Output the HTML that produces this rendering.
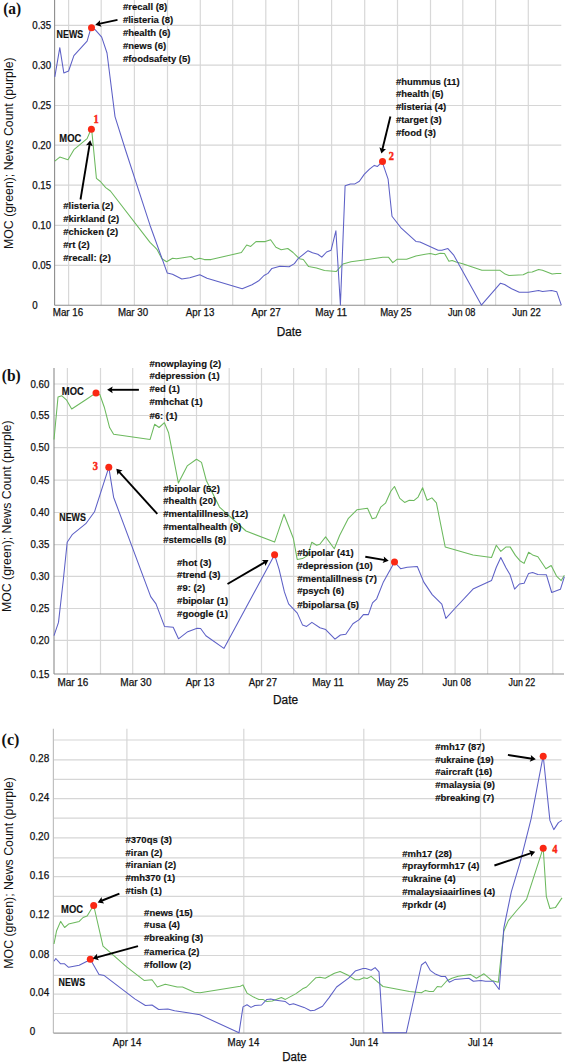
<!DOCTYPE html>
<html><head><meta charset="utf-8"><style>
html,body{margin:0;padding:0;background:#fff;}
body{width:566px;height:1063px;overflow:hidden;}
svg{display:block;}
</style></head><body>
<svg width="566" height="1063" viewBox="0 0 566 1063" shape-rendering="auto">
<rect width="566" height="1063" fill="#fff"/>
<line x1="68.60" y1="0" x2="68.60" y2="305.1" stroke="#d8d8d8" stroke-width="1.2"/>
<line x1="101.20" y1="0" x2="101.20" y2="305.1" stroke="#d8d8d8" stroke-width="1.2"/>
<line x1="134.40" y1="0" x2="134.40" y2="305.1" stroke="#d8d8d8" stroke-width="1.2"/>
<line x1="167.50" y1="0" x2="167.50" y2="305.1" stroke="#d8d8d8" stroke-width="1.2"/>
<line x1="200.30" y1="0" x2="200.30" y2="305.1" stroke="#d8d8d8" stroke-width="1.2"/>
<line x1="232.70" y1="0" x2="232.70" y2="305.1" stroke="#d8d8d8" stroke-width="1.2"/>
<line x1="265.80" y1="0" x2="265.80" y2="305.1" stroke="#d8d8d8" stroke-width="1.2"/>
<line x1="298.50" y1="0" x2="298.50" y2="305.1" stroke="#d8d8d8" stroke-width="1.2"/>
<line x1="331.60" y1="0" x2="331.60" y2="305.1" stroke="#d8d8d8" stroke-width="1.2"/>
<line x1="364.70" y1="0" x2="364.70" y2="305.1" stroke="#d8d8d8" stroke-width="1.2"/>
<line x1="397.50" y1="0" x2="397.50" y2="305.1" stroke="#d8d8d8" stroke-width="1.2"/>
<line x1="430.50" y1="0" x2="430.50" y2="305.1" stroke="#d8d8d8" stroke-width="1.2"/>
<line x1="462.80" y1="0" x2="462.80" y2="305.1" stroke="#d8d8d8" stroke-width="1.2"/>
<line x1="495.60" y1="0" x2="495.60" y2="305.1" stroke="#d8d8d8" stroke-width="1.2"/>
<line x1="528.30" y1="0" x2="528.30" y2="305.1" stroke="#d8d8d8" stroke-width="1.2"/>
<line x1="54.8" y1="25.30" x2="561.3" y2="25.30" stroke="#d6d6d6" stroke-width="1.2"/>
<line x1="54.8" y1="65.20" x2="561.3" y2="65.20" stroke="#d6d6d6" stroke-width="1.2"/>
<line x1="54.8" y1="105.50" x2="561.3" y2="105.50" stroke="#d6d6d6" stroke-width="1.2"/>
<line x1="54.8" y1="145.20" x2="561.3" y2="145.20" stroke="#d6d6d6" stroke-width="1.2"/>
<line x1="54.8" y1="185.20" x2="561.3" y2="185.20" stroke="#d6d6d6" stroke-width="1.2"/>
<line x1="54.8" y1="225.30" x2="561.3" y2="225.30" stroke="#d6d6d6" stroke-width="1.2"/>
<line x1="54.8" y1="265.30" x2="561.3" y2="265.30" stroke="#d6d6d6" stroke-width="1.2"/>
<line x1="54.6" y1="0" x2="54.6" y2="305.3" stroke="#8c8c8c" stroke-width="1.1"/>
<line x1="54.6" y1="305.3" x2="561.3" y2="305.3" stroke="#8c8c8c" stroke-width="1.1"/>
<text x="3.2" y="14.0" font-family="Liberation Serif" font-size="16" font-weight="bold" text-anchor="start" fill="#111" textLength="18.0" lengthAdjust="spacingAndGlyphs">(a)</text>
<text x="32.3" y="308.7" font-family="Liberation Sans" font-size="10" font-weight="normal" text-anchor="start" fill="#111" textLength="5.4" lengthAdjust="spacingAndGlyphs" stroke="#111" stroke-width="0.25">0</text>
<text x="32.3" y="268.7" font-family="Liberation Sans" font-size="10" font-weight="normal" text-anchor="start" fill="#111" textLength="18.8" lengthAdjust="spacingAndGlyphs" stroke="#111" stroke-width="0.25">0.05</text>
<text x="32.3" y="228.8" font-family="Liberation Sans" font-size="10" font-weight="normal" text-anchor="start" fill="#111" textLength="18.8" lengthAdjust="spacingAndGlyphs" stroke="#111" stroke-width="0.25">0.10</text>
<text x="32.3" y="188.8" font-family="Liberation Sans" font-size="10" font-weight="normal" text-anchor="start" fill="#111" textLength="18.8" lengthAdjust="spacingAndGlyphs" stroke="#111" stroke-width="0.25">0.15</text>
<text x="32.3" y="148.8" font-family="Liberation Sans" font-size="10" font-weight="normal" text-anchor="start" fill="#111" textLength="18.8" lengthAdjust="spacingAndGlyphs" stroke="#111" stroke-width="0.25">0.20</text>
<text x="32.3" y="108.9" font-family="Liberation Sans" font-size="10" font-weight="normal" text-anchor="start" fill="#111" textLength="18.8" lengthAdjust="spacingAndGlyphs" stroke="#111" stroke-width="0.25">0.25</text>
<text x="32.3" y="68.9" font-family="Liberation Sans" font-size="10" font-weight="normal" text-anchor="start" fill="#111" textLength="18.8" lengthAdjust="spacingAndGlyphs" stroke="#111" stroke-width="0.25">0.30</text>
<text x="32.3" y="28.9" font-family="Liberation Sans" font-size="10" font-weight="normal" text-anchor="start" fill="#111" textLength="18.8" lengthAdjust="spacingAndGlyphs" stroke="#111" stroke-width="0.25">0.35</text>
<text x="68.0" y="315.8" font-family="Liberation Sans" font-size="10" font-weight="normal" text-anchor="middle" fill="#111" textLength="30.5" lengthAdjust="spacingAndGlyphs" stroke="#111" stroke-width="0.25">Mar 16</text>
<text x="133.0" y="315.8" font-family="Liberation Sans" font-size="10" font-weight="normal" text-anchor="middle" fill="#111" textLength="30.2" lengthAdjust="spacingAndGlyphs" stroke="#111" stroke-width="0.25">Mar 30</text>
<text x="200.1" y="315.8" font-family="Liberation Sans" font-size="10" font-weight="normal" text-anchor="middle" fill="#111" textLength="28.6" lengthAdjust="spacingAndGlyphs" stroke="#111" stroke-width="0.25">Apr 13</text>
<text x="266.1" y="315.8" font-family="Liberation Sans" font-size="10" font-weight="normal" text-anchor="middle" fill="#111" textLength="29.2" lengthAdjust="spacingAndGlyphs" stroke="#111" stroke-width="0.25">Apr 27</text>
<text x="331.1" y="315.8" font-family="Liberation Sans" font-size="10" font-weight="normal" text-anchor="middle" fill="#111" textLength="31.8" lengthAdjust="spacingAndGlyphs" stroke="#111" stroke-width="0.25">May 11</text>
<text x="395.8" y="315.8" font-family="Liberation Sans" font-size="10" font-weight="normal" text-anchor="middle" fill="#111" textLength="31.3" lengthAdjust="spacingAndGlyphs" stroke="#111" stroke-width="0.25">May 25</text>
<text x="461.7" y="315.8" font-family="Liberation Sans" font-size="10" font-weight="normal" text-anchor="middle" fill="#111" textLength="27.6" lengthAdjust="spacingAndGlyphs" stroke="#111" stroke-width="0.25">Jun 08</text>
<text x="526.5" y="315.8" font-family="Liberation Sans" font-size="10" font-weight="normal" text-anchor="middle" fill="#111" textLength="28.4" lengthAdjust="spacingAndGlyphs" stroke="#111" stroke-width="0.25">Jun 22</text>
<text x="289.2" y="336.0" font-family="Liberation Sans" font-size="12" font-weight="normal" text-anchor="middle" fill="#111" textLength="25.0" lengthAdjust="spacingAndGlyphs" stroke="#111" stroke-width="0.25">Date</text>
<text x="0" y="0" transform="translate(13.399999999999999,153.2) rotate(-90)" font-family="Liberation Sans" font-size="12" text-anchor="middle" fill="#111" textLength="191.6" lengthAdjust="spacingAndGlyphs">MOC (green); News Count (purple)</text>
<polyline points="54.8,161.1 59.8,157.1 68.0,159.8 73.9,149.7 87.1,138.6 91.1,129.3 91.9,131.9 96.4,178.3 100.4,181.5 105.7,187.6 110.4,191.0 150.0,242.4 155.3,247.7 157.3,249.9 161.9,258.8 166.6,261.8 172.5,258.3 176.5,258.8 191.1,256.5 195.0,259.6 199.8,258.3 204.3,259.6 211.0,259.6 241.4,252.5 246.7,245.0 250.7,246.4 256.0,241.6 265.3,241.6 270.6,239.8 275.9,247.2 281.2,249.8 287.8,248.5 293.1,252.5 299.3,258.7 303.3,259.5 308.6,266.6 316.5,268.0 324.5,270.6 336.4,271.4 343.0,264.0 351.0,261.8 369.5,259.2 382.8,257.3 388.6,257.3 392.8,262.6 397.3,259.2 406.6,259.2 415.9,256.0 425.2,254.3 430.3,253.5 435.5,254.8 440.1,253.3 444.5,253.5 448.9,261.2 452.2,260.5 456.1,262.0 462.6,263.8 481.9,270.3 500.0,270.3 505.1,274.1 509.0,275.4 523.2,274.7 528.3,272.3 532.2,272.1 538.6,269.5 542.5,270.3 552.1,274.1 556.7,273.4 561.3,273.4" fill="none" stroke="#6cb95e" stroke-width="1.05" stroke-linejoin="round"/>
<polyline points="54.8,76.9 59.8,47.7 63.8,72.9 68.6,71.0 73.9,55.7 87.1,41.1 91.1,27.3 95.1,29.7 101.7,37.1 107.0,53.0 115.0,116.6 125.5,150.0 150.0,225.2 167.2,272.9 172.5,274.2 181.8,279.0 189.8,277.7 199.8,274.7 207.0,278.2 242.2,288.8 252.0,284.8 258.7,280.8 264.0,275.5 268.0,273.4 271.9,268.4 279.9,266.3 289.1,266.8 294.4,263.6 298.0,258.7 308.0,250.7 312.5,252.8 317.8,254.2 321.8,257.1 326.6,252.0 331.1,250.2 335.9,230.8 340.4,305.0 345.1,185.8 350.4,183.9 354.9,183.9 359.4,181.3 364.2,174.4 369.5,169.1 374.3,165.4 377.5,166.4 382.2,161.9 388.1,179.2 392.0,216.3 401.3,228.2 415.9,241.4 420.0,241.9 438.1,250.2 441.9,250.2 447.9,248.6 453.5,254.8 481.4,305.1 500.5,283.2 504.6,284.5 511.6,288.8 519.3,292.2 528.3,292.2 538.6,290.4 542.5,291.4 551.5,290.4 556.7,291.7 561.3,305.1" fill="none" stroke="#5d60c6" stroke-width="1.05" stroke-linejoin="round"/>
<circle cx="91.5" cy="27.7" r="3.5" fill="#fa2814"/>
<circle cx="91.4" cy="129.3" r="3.5" fill="#fa2814"/>
<circle cx="382.5" cy="161.6" r="3.5" fill="#fa2814"/>
<text x="96.0" y="122.7" font-family="Liberation Serif" font-size="12" font-weight="bold" text-anchor="middle" fill="#fa2814" textLength="5.2" lengthAdjust="spacingAndGlyphs" stroke="#fa2814" stroke-width="0.45">1</text>
<text x="391.3" y="160.0" font-family="Liberation Serif" font-size="12" font-weight="bold" text-anchor="middle" fill="#fa2814" textLength="5.2" lengthAdjust="spacingAndGlyphs" stroke="#fa2814" stroke-width="0.45">2</text>
<text x="56.6" y="38.3" font-family="Liberation Sans" font-size="10.3" font-weight="bold" text-anchor="start" fill="#111" textLength="26.6" lengthAdjust="spacingAndGlyphs" stroke="#111" stroke-width="0.15">NEWS</text>
<text x="59.3" y="141.6" font-family="Liberation Sans" font-size="10.3" font-weight="bold" text-anchor="start" fill="#111" textLength="22.0" lengthAdjust="spacingAndGlyphs" stroke="#111" stroke-width="0.15">MOC</text>
<text x="122.9" y="10.1" font-family="Liberation Sans" font-size="9.9" font-weight="bold" text-anchor="start" fill="#111" textLength="44.4" lengthAdjust="spacingAndGlyphs" stroke="#111" stroke-width="0.15">#recall (8)</text>
<text x="122.9" y="22.8" font-family="Liberation Sans" font-size="9.9" font-weight="bold" text-anchor="start" fill="#111" textLength="50.2" lengthAdjust="spacingAndGlyphs" stroke="#111" stroke-width="0.15">#listeria (8)</text>
<text x="122.9" y="35.8" font-family="Liberation Sans" font-size="9.9" font-weight="bold" text-anchor="start" fill="#111" textLength="47.5" lengthAdjust="spacingAndGlyphs" stroke="#111" stroke-width="0.15">#health (6)</text>
<text x="122.9" y="48.8" font-family="Liberation Sans" font-size="9.9" font-weight="bold" text-anchor="start" fill="#111" textLength="43.3" lengthAdjust="spacingAndGlyphs" stroke="#111" stroke-width="0.15">#news (6)</text>
<text x="122.9" y="61.8" font-family="Liberation Sans" font-size="9.9" font-weight="bold" text-anchor="start" fill="#111" textLength="67.6" lengthAdjust="spacingAndGlyphs" stroke="#111" stroke-width="0.15">#foodsafety (5)</text>
<text x="63.3" y="209.1" font-family="Liberation Sans" font-size="9.9" font-weight="bold" text-anchor="start" fill="#111" textLength="50.2" lengthAdjust="spacingAndGlyphs" stroke="#111" stroke-width="0.15">#listeria (2)</text>
<text x="63.3" y="222.1" font-family="Liberation Sans" font-size="9.9" font-weight="bold" text-anchor="start" fill="#111" textLength="56.0" lengthAdjust="spacingAndGlyphs" stroke="#111" stroke-width="0.15">#kirkland (2)</text>
<text x="63.3" y="234.9" font-family="Liberation Sans" font-size="9.9" font-weight="bold" text-anchor="start" fill="#111" textLength="54.9" lengthAdjust="spacingAndGlyphs" stroke="#111" stroke-width="0.15">#chicken (2)</text>
<text x="63.3" y="247.8" font-family="Liberation Sans" font-size="9.9" font-weight="bold" text-anchor="start" fill="#111" textLength="26.4" lengthAdjust="spacingAndGlyphs" stroke="#111" stroke-width="0.15">#rt (2)</text>
<text x="63.3" y="260.8" font-family="Liberation Sans" font-size="9.9" font-weight="bold" text-anchor="start" fill="#111" textLength="47.5" lengthAdjust="spacingAndGlyphs" stroke="#111" stroke-width="0.15">#recall: (2)</text>
<text x="395.9" y="84.5" font-family="Liberation Sans" font-size="9.9" font-weight="bold" text-anchor="start" fill="#111" textLength="63.9" lengthAdjust="spacingAndGlyphs" stroke="#111" stroke-width="0.15">#hummus (11)</text>
<text x="395.9" y="97.4" font-family="Liberation Sans" font-size="9.9" font-weight="bold" text-anchor="start" fill="#111" textLength="47.5" lengthAdjust="spacingAndGlyphs" stroke="#111" stroke-width="0.15">#health (5)</text>
<text x="395.9" y="110.3" font-family="Liberation Sans" font-size="9.9" font-weight="bold" text-anchor="start" fill="#111" textLength="50.2" lengthAdjust="spacingAndGlyphs" stroke="#111" stroke-width="0.15">#listeria (4)</text>
<text x="395.9" y="123.2" font-family="Liberation Sans" font-size="9.9" font-weight="bold" text-anchor="start" fill="#111" textLength="45.9" lengthAdjust="spacingAndGlyphs" stroke="#111" stroke-width="0.15">#target (3)</text>
<text x="395.9" y="136.2" font-family="Liberation Sans" font-size="9.9" font-weight="bold" text-anchor="start" fill="#111" textLength="40.1" lengthAdjust="spacingAndGlyphs" stroke="#111" stroke-width="0.15">#food (3)</text>
<line x1="117.5" y1="19.9" x2="98.8" y2="23.9" stroke="#000" stroke-width="1.9"/>
<polygon points="95.3,24.7 100.1,20.2 99.8,23.7 101.5,26.8" fill="#000"/>
<line x1="80.5" y1="199.5" x2="89.7" y2="143.8" stroke="#000" stroke-width="1.9"/>
<polygon points="90.3,140.2 92.7,146.3 89.5,144.7 86.0,145.2" fill="#000"/>
<line x1="390.4" y1="116.4" x2="382.2" y2="150.0" stroke="#000" stroke-width="1.9"/>
<polygon points="381.4,153.5 379.4,147.3 382.5,149.0 386.0,148.9" fill="#000"/>
<line x1="67.40" y1="368.0" x2="67.40" y2="674.0" stroke="#d8d8d8" stroke-width="1.2"/>
<line x1="100.50" y1="368.0" x2="100.50" y2="674.0" stroke="#d8d8d8" stroke-width="1.2"/>
<line x1="132.70" y1="368.0" x2="132.70" y2="674.0" stroke="#d8d8d8" stroke-width="1.2"/>
<line x1="164.50" y1="368.0" x2="164.50" y2="674.0" stroke="#d8d8d8" stroke-width="1.2"/>
<line x1="196.50" y1="368.0" x2="196.50" y2="674.0" stroke="#d8d8d8" stroke-width="1.2"/>
<line x1="229.20" y1="368.0" x2="229.20" y2="674.0" stroke="#d8d8d8" stroke-width="1.2"/>
<line x1="261.50" y1="368.0" x2="261.50" y2="674.0" stroke="#d8d8d8" stroke-width="1.2"/>
<line x1="293.60" y1="368.0" x2="293.60" y2="674.0" stroke="#d8d8d8" stroke-width="1.2"/>
<line x1="326.20" y1="368.0" x2="326.20" y2="674.0" stroke="#d8d8d8" stroke-width="1.2"/>
<line x1="358.70" y1="368.0" x2="358.70" y2="674.0" stroke="#d8d8d8" stroke-width="1.2"/>
<line x1="390.70" y1="368.0" x2="390.70" y2="674.0" stroke="#d8d8d8" stroke-width="1.2"/>
<line x1="422.60" y1="368.0" x2="422.60" y2="674.0" stroke="#d8d8d8" stroke-width="1.2"/>
<line x1="455.10" y1="368.0" x2="455.10" y2="674.0" stroke="#d8d8d8" stroke-width="1.2"/>
<line x1="487.60" y1="368.0" x2="487.60" y2="674.0" stroke="#d8d8d8" stroke-width="1.2"/>
<line x1="519.80" y1="368.0" x2="519.80" y2="674.0" stroke="#d8d8d8" stroke-width="1.2"/>
<line x1="552.80" y1="368.0" x2="552.80" y2="674.0" stroke="#d8d8d8" stroke-width="1.2"/>
<line x1="54.0" y1="640.40" x2="564.0" y2="640.40" stroke="#d6d6d6" stroke-width="1.2"/>
<line x1="54.0" y1="608.50" x2="564.0" y2="608.50" stroke="#d6d6d6" stroke-width="1.2"/>
<line x1="54.0" y1="576.30" x2="564.0" y2="576.30" stroke="#d6d6d6" stroke-width="1.2"/>
<line x1="54.0" y1="544.60" x2="564.0" y2="544.60" stroke="#d6d6d6" stroke-width="1.2"/>
<line x1="54.0" y1="512.50" x2="564.0" y2="512.50" stroke="#d6d6d6" stroke-width="1.2"/>
<line x1="54.0" y1="480.20" x2="564.0" y2="480.20" stroke="#d6d6d6" stroke-width="1.2"/>
<line x1="54.0" y1="447.70" x2="564.0" y2="447.70" stroke="#d6d6d6" stroke-width="1.2"/>
<line x1="54.0" y1="415.50" x2="564.0" y2="415.50" stroke="#d6d6d6" stroke-width="1.2"/>
<line x1="54.0" y1="384.00" x2="564.0" y2="384.00" stroke="#d6d6d6" stroke-width="1.2"/>
<line x1="54.0" y1="368.0" x2="54.0" y2="674.0" stroke="#8c8c8c" stroke-width="1.1"/>
<line x1="54.0" y1="674.0" x2="564.0" y2="674.0" stroke="#8c8c8c" stroke-width="1.1"/>
<text x="1.8" y="381.2" font-family="Liberation Serif" font-size="16" font-weight="bold" text-anchor="start" fill="#111" textLength="19.0" lengthAdjust="spacingAndGlyphs">(b)</text>
<text x="30.5" y="677.6" font-family="Liberation Sans" font-size="10" font-weight="normal" text-anchor="start" fill="#111" textLength="18.8" lengthAdjust="spacingAndGlyphs" stroke="#111" stroke-width="0.25">0.15</text>
<text x="30.5" y="644.0" font-family="Liberation Sans" font-size="10" font-weight="normal" text-anchor="start" fill="#111" textLength="18.8" lengthAdjust="spacingAndGlyphs" stroke="#111" stroke-width="0.25">0.20</text>
<text x="30.5" y="612.1" font-family="Liberation Sans" font-size="10" font-weight="normal" text-anchor="start" fill="#111" textLength="18.8" lengthAdjust="spacingAndGlyphs" stroke="#111" stroke-width="0.25">0.25</text>
<text x="30.5" y="579.9" font-family="Liberation Sans" font-size="10" font-weight="normal" text-anchor="start" fill="#111" textLength="18.8" lengthAdjust="spacingAndGlyphs" stroke="#111" stroke-width="0.25">0.30</text>
<text x="30.5" y="548.2" font-family="Liberation Sans" font-size="10" font-weight="normal" text-anchor="start" fill="#111" textLength="18.8" lengthAdjust="spacingAndGlyphs" stroke="#111" stroke-width="0.25">0.35</text>
<text x="30.5" y="516.1" font-family="Liberation Sans" font-size="10" font-weight="normal" text-anchor="start" fill="#111" textLength="18.8" lengthAdjust="spacingAndGlyphs" stroke="#111" stroke-width="0.25">0.40</text>
<text x="30.5" y="483.8" font-family="Liberation Sans" font-size="10" font-weight="normal" text-anchor="start" fill="#111" textLength="18.8" lengthAdjust="spacingAndGlyphs" stroke="#111" stroke-width="0.25">0.45</text>
<text x="30.5" y="451.3" font-family="Liberation Sans" font-size="10" font-weight="normal" text-anchor="start" fill="#111" textLength="18.8" lengthAdjust="spacingAndGlyphs" stroke="#111" stroke-width="0.25">0.50</text>
<text x="30.5" y="419.1" font-family="Liberation Sans" font-size="10" font-weight="normal" text-anchor="start" fill="#111" textLength="18.8" lengthAdjust="spacingAndGlyphs" stroke="#111" stroke-width="0.25">0.55</text>
<text x="30.5" y="387.6" font-family="Liberation Sans" font-size="10" font-weight="normal" text-anchor="start" fill="#111" textLength="18.8" lengthAdjust="spacingAndGlyphs" stroke="#111" stroke-width="0.25">0.60</text>
<text x="72.9" y="685.7" font-family="Liberation Sans" font-size="10" font-weight="normal" text-anchor="middle" fill="#111" textLength="31.0" lengthAdjust="spacingAndGlyphs" stroke="#111" stroke-width="0.25">Mar 16</text>
<text x="135.9" y="685.7" font-family="Liberation Sans" font-size="10" font-weight="normal" text-anchor="middle" fill="#111" textLength="31.3" lengthAdjust="spacingAndGlyphs" stroke="#111" stroke-width="0.25">Mar 30</text>
<text x="200.0" y="685.7" font-family="Liberation Sans" font-size="10" font-weight="normal" text-anchor="middle" fill="#111" textLength="28.7" lengthAdjust="spacingAndGlyphs" stroke="#111" stroke-width="0.25">Apr 13</text>
<text x="262.9" y="685.7" font-family="Liberation Sans" font-size="10" font-weight="normal" text-anchor="middle" fill="#111" textLength="28.1" lengthAdjust="spacingAndGlyphs" stroke="#111" stroke-width="0.25">Apr 27</text>
<text x="327.9" y="685.7" font-family="Liberation Sans" font-size="10" font-weight="normal" text-anchor="middle" fill="#111" textLength="31.4" lengthAdjust="spacingAndGlyphs" stroke="#111" stroke-width="0.25">May 11</text>
<text x="392.5" y="685.7" font-family="Liberation Sans" font-size="10" font-weight="normal" text-anchor="middle" fill="#111" textLength="31.7" lengthAdjust="spacingAndGlyphs" stroke="#111" stroke-width="0.25">May 25</text>
<text x="456.8" y="685.7" font-family="Liberation Sans" font-size="10" font-weight="normal" text-anchor="middle" fill="#111" textLength="28.4" lengthAdjust="spacingAndGlyphs" stroke="#111" stroke-width="0.25">Jun 08</text>
<text x="521.9" y="685.7" font-family="Liberation Sans" font-size="10" font-weight="normal" text-anchor="middle" fill="#111" textLength="26.7" lengthAdjust="spacingAndGlyphs" stroke="#111" stroke-width="0.25">Jun 22</text>
<text x="285.6" y="703.9" font-family="Liberation Sans" font-size="12" font-weight="normal" text-anchor="middle" fill="#111" textLength="25.1" lengthAdjust="spacingAndGlyphs" stroke="#111" stroke-width="0.25">Date</text>
<text x="0" y="0" transform="translate(11.4,516.3) rotate(-90)" font-family="Liberation Sans" font-size="12" text-anchor="middle" fill="#111" textLength="191.6" lengthAdjust="spacingAndGlyphs">MOC (green); News Count (purple)</text>
<polyline points="54.0,439.5 58.0,397.1 61.9,395.8 66.4,399.8 71.7,409.0 85.8,399.8 95.6,393.1 99.8,394.5 104.3,407.2 109.6,427.6 113.6,434.2 150.1,439.4 154.6,424.3 159.1,427.5 164.4,422.7 168.6,432.8 178.4,483.1 187.2,465.9 196.5,459.3 201.5,462.4 206.3,480.5 219.5,507.1 246.0,531.0 274.6,542.1 284.0,514.3 293.3,538.2 297.2,559.4 302.5,558.6 307.8,555.4 311.8,542.2 316.6,545.3 319.8,544.3 325.6,536.9 334.3,548.8 339.6,535.5 348.4,518.3 356.9,509.8 367.5,508.2 372.2,518.8 375.9,517.8 380.7,507.2 385.5,503.2 390.8,491.3 394.5,486.5 399.8,498.4 404.6,502.4 409.3,500.3 413.8,500.6 418.1,497.1 422.6,487.8 427.1,500.3 431.9,497.9 436.4,502.9 445.2,546.9 473.0,554.9 491.5,557.5 496.3,545.3 500.8,551.4 506.1,546.9 510.1,546.9 515.4,555.4 519.9,560.7 524.1,563.4 528.6,552.2 532.6,554.9 537.9,556.7 545.9,568.7 551.2,565.5 556.5,576.1 561.2,580.6 564.4,575.3" fill="none" stroke="#6cb95e" stroke-width="1.05" stroke-linejoin="round"/>
<polyline points="54.0,635.7 58.5,622.4 63.3,580.0 67.2,542.3 72.5,534.3 85.8,523.7 94.5,511.8 108.8,467.3 113.6,497.2 150.7,596.6 156.0,603.9 164.5,626.4 173.2,627.2 178.5,638.8 187.8,631.7 197.1,628.2 200.6,628.5 205.9,635.7 223.9,648.4 274.6,554.8 279.1,569.4 284.4,591.9 288.6,603.9 297.3,613.1 302.6,625.1 306.6,626.4 311.9,622.4 319.9,627.7 325.7,629.6 335.0,639.2 340.4,635.0 345.8,634.2 352.9,623.8 359.2,619.6 363.4,614.6 368.4,614.6 372.5,602.9 376.7,598.8 383.4,581.9 394.5,562.0 400.6,568.7 407.2,567.3 417.3,566.5 423.8,582.1 432.2,594.6 441.8,604.2 445.9,618.4 454.4,609.0 473.0,589.1 491.5,580.6 496.3,567.3 500.8,557.5 506.1,568.1 510.1,574.8 514.6,589.1 519.4,584.0 524.1,583.2 528.6,573.4 532.6,572.6 537.9,574.5 546.4,574.8 551.7,592.5 560.4,589.3 564.4,576.6" fill="none" stroke="#5d60c6" stroke-width="1.05" stroke-linejoin="round"/>
<circle cx="96.0" cy="393.0" r="3.5" fill="#fa2814"/>
<circle cx="108.8" cy="467.3" r="3.5" fill="#fa2814"/>
<circle cx="274.6" cy="554.8" r="3.5" fill="#fa2814"/>
<circle cx="394.5" cy="562" r="3.5" fill="#fa2814"/>
<text x="95.3" y="470.1" font-family="Liberation Serif" font-size="12" font-weight="bold" text-anchor="middle" fill="#fa2814" textLength="5.2" lengthAdjust="spacingAndGlyphs" stroke="#fa2814" stroke-width="0.45">3</text>
<text x="61.8" y="394.8" font-family="Liberation Sans" font-size="10.3" font-weight="bold" text-anchor="start" fill="#111" textLength="22.0" lengthAdjust="spacingAndGlyphs" stroke="#111" stroke-width="0.15">MOC</text>
<text x="59.3" y="521.4" font-family="Liberation Sans" font-size="10.3" font-weight="bold" text-anchor="start" fill="#111" textLength="26.6" lengthAdjust="spacingAndGlyphs" stroke="#111" stroke-width="0.15">NEWS</text>
<text x="149.4" y="366.8" font-family="Liberation Sans" font-size="9.9" font-weight="bold" text-anchor="start" fill="#111" textLength="71.8" lengthAdjust="spacingAndGlyphs" stroke="#111" stroke-width="0.15">#nowplaying (2)</text>
<text x="149.4" y="379.4" font-family="Liberation Sans" font-size="9.9" font-weight="bold" text-anchor="start" fill="#111" textLength="70.2" lengthAdjust="spacingAndGlyphs" stroke="#111" stroke-width="0.15">#depression (1)</text>
<text x="149.4" y="392.0" font-family="Liberation Sans" font-size="9.9" font-weight="bold" text-anchor="start" fill="#111" textLength="30.6" lengthAdjust="spacingAndGlyphs" stroke="#111" stroke-width="0.15">#ed (1)</text>
<text x="149.4" y="405.2" font-family="Liberation Sans" font-size="9.9" font-weight="bold" text-anchor="start" fill="#111" textLength="53.3" lengthAdjust="spacingAndGlyphs" stroke="#111" stroke-width="0.15">#mhchat (1)</text>
<text x="149.4" y="418.5" font-family="Liberation Sans" font-size="9.9" font-weight="bold" text-anchor="start" fill="#111" textLength="28.0" lengthAdjust="spacingAndGlyphs" stroke="#111" stroke-width="0.15">#6: (1)</text>
<text x="163.3" y="491.5" font-family="Liberation Sans" font-size="9.9" font-weight="bold" text-anchor="start" fill="#111" textLength="56.5" lengthAdjust="spacingAndGlyphs" stroke="#111" stroke-width="0.15">#bipolar (52)</text>
<text x="163.3" y="504.3" font-family="Liberation Sans" font-size="9.9" font-weight="bold" text-anchor="start" fill="#111" textLength="52.8" lengthAdjust="spacingAndGlyphs" stroke="#111" stroke-width="0.15">#health (20)</text>
<text x="163.3" y="516.9" font-family="Liberation Sans" font-size="9.9" font-weight="bold" text-anchor="start" fill="#111" textLength="85.0" lengthAdjust="spacingAndGlyphs" stroke="#111" stroke-width="0.15">#mentalillness (12)</text>
<text x="163.3" y="530.0" font-family="Liberation Sans" font-size="9.9" font-weight="bold" text-anchor="start" fill="#111" textLength="78.1" lengthAdjust="spacingAndGlyphs" stroke="#111" stroke-width="0.15">#mentalhealth (9)</text>
<text x="163.3" y="543.2" font-family="Liberation Sans" font-size="9.9" font-weight="bold" text-anchor="start" fill="#111" textLength="62.8" lengthAdjust="spacingAndGlyphs" stroke="#111" stroke-width="0.15">#stemcells (8)</text>
<text x="177.1" y="565.7" font-family="Liberation Sans" font-size="9.9" font-weight="bold" text-anchor="start" fill="#111" textLength="34.3" lengthAdjust="spacingAndGlyphs" stroke="#111" stroke-width="0.15">#hot (3)</text>
<text x="177.1" y="578.3" font-family="Liberation Sans" font-size="9.9" font-weight="bold" text-anchor="start" fill="#111" textLength="43.3" lengthAdjust="spacingAndGlyphs" stroke="#111" stroke-width="0.15">#trend (3)</text>
<text x="177.1" y="590.8" font-family="Liberation Sans" font-size="9.9" font-weight="bold" text-anchor="start" fill="#111" textLength="28.0" lengthAdjust="spacingAndGlyphs" stroke="#111" stroke-width="0.15">#9: (2)</text>
<text x="177.1" y="603.9" font-family="Liberation Sans" font-size="9.9" font-weight="bold" text-anchor="start" fill="#111" textLength="51.2" lengthAdjust="spacingAndGlyphs" stroke="#111" stroke-width="0.15">#bipolar (1)</text>
<text x="177.1" y="617.4" font-family="Liberation Sans" font-size="9.9" font-weight="bold" text-anchor="start" fill="#111" textLength="50.7" lengthAdjust="spacingAndGlyphs" stroke="#111" stroke-width="0.15">#google (1)</text>
<text x="297.2" y="556.3" font-family="Liberation Sans" font-size="9.9" font-weight="bold" text-anchor="start" fill="#111" textLength="56.5" lengthAdjust="spacingAndGlyphs" stroke="#111" stroke-width="0.15">#bipolar (41)</text>
<text x="297.2" y="568.9" font-family="Liberation Sans" font-size="9.9" font-weight="bold" text-anchor="start" fill="#111" textLength="75.5" lengthAdjust="spacingAndGlyphs" stroke="#111" stroke-width="0.15">#depression (10)</text>
<text x="297.2" y="581.5" font-family="Liberation Sans" font-size="9.9" font-weight="bold" text-anchor="start" fill="#111" textLength="79.7" lengthAdjust="spacingAndGlyphs" stroke="#111" stroke-width="0.15">#mentalillness (7)</text>
<text x="297.2" y="594.4" font-family="Liberation Sans" font-size="9.9" font-weight="bold" text-anchor="start" fill="#111" textLength="47.0" lengthAdjust="spacingAndGlyphs" stroke="#111" stroke-width="0.15">#psych (6)</text>
<text x="297.2" y="607.9" font-family="Liberation Sans" font-size="9.9" font-weight="bold" text-anchor="start" fill="#111" textLength="61.8" lengthAdjust="spacingAndGlyphs" stroke="#111" stroke-width="0.15">#bipolarsa (5)</text>
<line x1="138.9" y1="389.8" x2="110.7" y2="389.8" stroke="#000" stroke-width="1.9"/>
<polygon points="107.1,389.8 112.7,386.4 111.7,389.8 112.7,393.2" fill="#000"/>
<line x1="157.3" y1="513.9" x2="118.7" y2="471.4" stroke="#000" stroke-width="1.9"/>
<polygon points="116.3,468.7 122.6,470.6 119.4,472.1 117.5,475.1" fill="#000"/>
<line x1="227.5" y1="584" x2="265.4" y2="561.9" stroke="#000" stroke-width="1.9"/>
<polygon points="268.5,560.1 265.4,565.9 264.5,562.4 261.9,560.0" fill="#000"/>
<line x1="365.3" y1="556.7" x2="385.2" y2="560.1" stroke="#000" stroke-width="1.9"/>
<polygon points="388.7,560.7 382.6,563.1 384.2,559.9 383.8,556.4" fill="#000"/>
<line x1="126.90" y1="728.7" x2="126.90" y2="1033.1" stroke="#d8d8d8" stroke-width="1.2"/>
<line x1="243.80" y1="728.7" x2="243.80" y2="1033.1" stroke="#d8d8d8" stroke-width="1.2"/>
<line x1="363.80" y1="728.7" x2="363.80" y2="1033.1" stroke="#d8d8d8" stroke-width="1.2"/>
<line x1="480.50" y1="728.7" x2="480.50" y2="1033.1" stroke="#d8d8d8" stroke-width="1.2"/>
<line x1="53.4" y1="1013.50" x2="561.5" y2="1013.50" stroke="#d6d6d6" stroke-width="1.2"/>
<line x1="53.4" y1="994.20" x2="561.5" y2="994.20" stroke="#d6d6d6" stroke-width="1.2"/>
<line x1="53.4" y1="975.30" x2="561.5" y2="975.30" stroke="#d6d6d6" stroke-width="1.2"/>
<line x1="53.4" y1="955.50" x2="561.5" y2="955.50" stroke="#d6d6d6" stroke-width="1.2"/>
<line x1="53.4" y1="935.80" x2="561.5" y2="935.80" stroke="#d6d6d6" stroke-width="1.2"/>
<line x1="53.4" y1="916.10" x2="561.5" y2="916.10" stroke="#d6d6d6" stroke-width="1.2"/>
<line x1="53.4" y1="896.30" x2="561.5" y2="896.30" stroke="#d6d6d6" stroke-width="1.2"/>
<line x1="53.4" y1="876.60" x2="561.5" y2="876.60" stroke="#d6d6d6" stroke-width="1.2"/>
<line x1="53.4" y1="857.80" x2="561.5" y2="857.80" stroke="#d6d6d6" stroke-width="1.2"/>
<line x1="53.4" y1="837.80" x2="561.5" y2="837.80" stroke="#d6d6d6" stroke-width="1.2"/>
<line x1="53.4" y1="818.20" x2="561.5" y2="818.20" stroke="#d6d6d6" stroke-width="1.2"/>
<line x1="53.4" y1="798.70" x2="561.5" y2="798.70" stroke="#d6d6d6" stroke-width="1.2"/>
<line x1="53.4" y1="779.30" x2="561.5" y2="779.30" stroke="#d6d6d6" stroke-width="1.2"/>
<line x1="53.4" y1="759.80" x2="561.5" y2="759.80" stroke="#d6d6d6" stroke-width="1.2"/>
<line x1="53.4" y1="740.00" x2="561.5" y2="740.00" stroke="#d6d6d6" stroke-width="1.2"/>
<line x1="53.4" y1="728.7" x2="53.4" y2="1033.1" stroke="#c0c0c0" stroke-width="1.2"/>
<line x1="53.4" y1="1033.1" x2="561.5" y2="1033.1" stroke="#999" stroke-width="1.1"/>
<text x="1.6" y="744.7" font-family="Liberation Serif" font-size="16" font-weight="bold" text-anchor="start" fill="#111" textLength="17.8" lengthAdjust="spacingAndGlyphs">(c)</text>
<text x="29.8" y="1035.1" font-family="Liberation Sans" font-size="10.2" font-weight="normal" text-anchor="start" fill="#111" textLength="5.5" lengthAdjust="spacingAndGlyphs" stroke="#111" stroke-width="0.25">0</text>
<text x="29.8" y="996.2" font-family="Liberation Sans" font-size="10.2" font-weight="normal" text-anchor="start" fill="#111" textLength="19.4" lengthAdjust="spacingAndGlyphs" stroke="#111" stroke-width="0.25">0.04</text>
<text x="29.8" y="957.5" font-family="Liberation Sans" font-size="10.2" font-weight="normal" text-anchor="start" fill="#111" textLength="19.4" lengthAdjust="spacingAndGlyphs" stroke="#111" stroke-width="0.25">0.08</text>
<text x="29.8" y="918.1" font-family="Liberation Sans" font-size="10.2" font-weight="normal" text-anchor="start" fill="#111" textLength="19.4" lengthAdjust="spacingAndGlyphs" stroke="#111" stroke-width="0.25">0.12</text>
<text x="29.8" y="878.6" font-family="Liberation Sans" font-size="10.2" font-weight="normal" text-anchor="start" fill="#111" textLength="19.4" lengthAdjust="spacingAndGlyphs" stroke="#111" stroke-width="0.25">0.16</text>
<text x="29.8" y="839.8" font-family="Liberation Sans" font-size="10.2" font-weight="normal" text-anchor="start" fill="#111" textLength="19.4" lengthAdjust="spacingAndGlyphs" stroke="#111" stroke-width="0.25">0.20</text>
<text x="29.8" y="800.7" font-family="Liberation Sans" font-size="10.2" font-weight="normal" text-anchor="start" fill="#111" textLength="19.4" lengthAdjust="spacingAndGlyphs" stroke="#111" stroke-width="0.25">0.24</text>
<text x="29.8" y="761.8" font-family="Liberation Sans" font-size="10.2" font-weight="normal" text-anchor="start" fill="#111" textLength="19.4" lengthAdjust="spacingAndGlyphs" stroke="#111" stroke-width="0.25">0.28</text>
<text x="127.1" y="1046.2" font-family="Liberation Sans" font-size="10" font-weight="normal" text-anchor="middle" fill="#111" textLength="28.6" lengthAdjust="spacingAndGlyphs" stroke="#111" stroke-width="0.25">Apr 14</text>
<text x="243.5" y="1046.2" font-family="Liberation Sans" font-size="10" font-weight="normal" text-anchor="middle" fill="#111" textLength="31.8" lengthAdjust="spacingAndGlyphs" stroke="#111" stroke-width="0.25">May 14</text>
<text x="364.1" y="1046.2" font-family="Liberation Sans" font-size="10" font-weight="normal" text-anchor="middle" fill="#111" textLength="28.3" lengthAdjust="spacingAndGlyphs" stroke="#111" stroke-width="0.25">Jun 14</text>
<text x="480.5" y="1046.2" font-family="Liberation Sans" font-size="10" font-weight="normal" text-anchor="middle" fill="#111" textLength="25.2" lengthAdjust="spacingAndGlyphs" stroke="#111" stroke-width="0.25">Jul 14</text>
<text x="294.4" y="1061.2" font-family="Liberation Sans" font-size="12" font-weight="normal" text-anchor="middle" fill="#111" textLength="24.4" lengthAdjust="spacingAndGlyphs" stroke="#111" stroke-width="0.25">Date</text>
<text x="0" y="0" transform="translate(12.7,872.9) rotate(-90)" font-family="Liberation Sans" font-size="12" text-anchor="middle" fill="#111" textLength="191.6" lengthAdjust="spacingAndGlyphs">MOC (green); News Count (purple)</text>
<polyline points="54.0,944.0 56.6,930.7 60.6,921.4 64.6,927.5 68.6,924.1 73.9,922.8 79.2,921.4 83.1,917.5 87.1,916.1 91.1,909.5 93.7,905.5 103.0,946.1 126.9,967.1 144.1,980.4 152.0,979.8 157.3,987.0 165.3,984.3 177.2,987.0 182.5,987.0 194.4,992.3 200.0,992.8 240.4,986.2 243.0,984.9 247.0,993.1 253.6,997.1 258.9,999.4 262.9,999.4 266.9,1001.6 272.2,1001.0 281.4,997.6 285.4,999.4 296.0,993.6 302.6,988.8 306.6,987.0 315.9,977.7 319.9,977.2 325.2,978.2 334.4,973.2 340.1,971.6 348.6,975.6 355.2,979.8 359.2,979.8 363.9,977.7 367.1,978.5 371.1,976.4 376.4,980.9 383.0,986.5 409.5,991.5 421.4,992.8 425.4,990.4 429.4,991.5 433.4,991.5 437.3,986.5 441.3,987.0 446.6,981.0 451.9,978.2 458.2,976.2 470.4,974.4 476.4,978.3 484.0,973.8 491.6,980.4 498.3,982.3 503.8,931.3 508.3,920.6 515.9,911.5 526.5,899.4 543.2,847.8 546.3,896.3 549.9,908.5 555.4,907.6 562.0,897.9" fill="none" stroke="#6cb95e" stroke-width="1.05" stroke-linejoin="round"/>
<polyline points="54.0,961.2 55.8,958.5 60.6,963.8 64.6,963.8 68.6,967.3 79.2,965.2 87.1,961.2 90.3,959.3 99.0,974.4 104.3,975.6 134.8,998.9 145.4,1005.5 152.0,1005.0 158.7,1009.5 167.9,1009.0 174.6,1010.8 187.8,1012.7 200.0,1014.8 239.0,1032.8 243.0,1006.9 247.0,1004.7 251.0,1007.4 254.9,1005.5 261.6,1005.0 266.9,999.4 270.8,998.9 276.1,1000.2 285.4,1001.6 289.4,1004.7 293.4,1003.7 304.0,1007.4 310.6,1010.8 314.6,1010.3 322.5,1006.3 329.1,997.6 336.6,987.0 348.6,978.2 355.2,971.1 363.1,968.4 365.8,968.4 371.1,970.3 375.1,967.6 379.0,971.9 383.0,1032.8 406.3,1032.8 421.4,965.0 425.4,961.8 430.2,970.3 434.7,973.7 441.3,976.4 445.3,976.4 449.3,982.2 454.6,979.6 468.8,978.3 473.4,981.3 481.0,980.4 485.5,981.3 493.1,981.3 499.2,989.5 503.8,928.2 511.3,891.8 520.4,861.4 531.1,818.9 543.2,755.8 549.9,820.4 553.8,829.6 558.4,822.6 562.0,820.4" fill="none" stroke="#5d60c6" stroke-width="1.05" stroke-linejoin="round"/>
<circle cx="93.7" cy="905.5" r="3.5" fill="#fa2814"/>
<circle cx="90.3" cy="959.3" r="3.5" fill="#fa2814"/>
<circle cx="543.2" cy="756.2" r="3.5" fill="#fa2814"/>
<circle cx="543.2" cy="848.3" r="3.5" fill="#fa2814"/>
<text x="554.9" y="853.3" font-family="Liberation Serif" font-size="12" font-weight="bold" text-anchor="middle" fill="#fa2814" textLength="5.2" lengthAdjust="spacingAndGlyphs" stroke="#fa2814" stroke-width="0.45">4</text>
<text x="61.1" y="913.3" font-family="Liberation Sans" font-size="10.3" font-weight="bold" text-anchor="start" fill="#111" textLength="22.0" lengthAdjust="spacingAndGlyphs" stroke="#111" stroke-width="0.15">MOC</text>
<text x="58.5" y="985.5" font-family="Liberation Sans" font-size="10.3" font-weight="bold" text-anchor="start" fill="#111" textLength="26.6" lengthAdjust="spacingAndGlyphs" stroke="#111" stroke-width="0.15">NEWS</text>
<text x="125.5" y="842.8" font-family="Liberation Sans" font-size="9.9" font-weight="bold" text-anchor="start" fill="#111" textLength="46.5" lengthAdjust="spacingAndGlyphs" stroke="#111" stroke-width="0.15">#370qs (3)</text>
<text x="125.5" y="855.5" font-family="Liberation Sans" font-size="9.9" font-weight="bold" text-anchor="start" fill="#111" textLength="37.0" lengthAdjust="spacingAndGlyphs" stroke="#111" stroke-width="0.15">#iran (2)</text>
<text x="125.5" y="868.3" font-family="Liberation Sans" font-size="9.9" font-weight="bold" text-anchor="start" fill="#111" textLength="50.7" lengthAdjust="spacingAndGlyphs" stroke="#111" stroke-width="0.15">#iranian (2)</text>
<text x="125.5" y="881.2" font-family="Liberation Sans" font-size="9.9" font-weight="bold" text-anchor="start" fill="#111" textLength="49.6" lengthAdjust="spacingAndGlyphs" stroke="#111" stroke-width="0.15">#mh370 (1)</text>
<text x="125.5" y="894.2" font-family="Liberation Sans" font-size="9.9" font-weight="bold" text-anchor="start" fill="#111" textLength="36.4" lengthAdjust="spacingAndGlyphs" stroke="#111" stroke-width="0.15">#tish (1)</text>
<text x="144.1" y="915.7" font-family="Liberation Sans" font-size="9.9" font-weight="bold" text-anchor="start" fill="#111" textLength="48.6" lengthAdjust="spacingAndGlyphs" stroke="#111" stroke-width="0.15">#news (15)</text>
<text x="144.1" y="928.1" font-family="Liberation Sans" font-size="9.9" font-weight="bold" text-anchor="start" fill="#111" textLength="35.9" lengthAdjust="spacingAndGlyphs" stroke="#111" stroke-width="0.15">#usa (4)</text>
<text x="144.1" y="941.3" font-family="Liberation Sans" font-size="9.9" font-weight="bold" text-anchor="start" fill="#111" textLength="59.1" lengthAdjust="spacingAndGlyphs" stroke="#111" stroke-width="0.15">#breaking (3)</text>
<text x="144.1" y="954.8" font-family="Liberation Sans" font-size="9.9" font-weight="bold" text-anchor="start" fill="#111" textLength="55.4" lengthAdjust="spacingAndGlyphs" stroke="#111" stroke-width="0.15">#america (2)</text>
<text x="144.1" y="968.0" font-family="Liberation Sans" font-size="9.9" font-weight="bold" text-anchor="start" fill="#111" textLength="47.0" lengthAdjust="spacingAndGlyphs" stroke="#111" stroke-width="0.15">#follow (2)</text>
<text x="435.2" y="749.6" font-family="Liberation Sans" font-size="9.9" font-weight="bold" text-anchor="start" fill="#111" textLength="49.6" lengthAdjust="spacingAndGlyphs" stroke="#111" stroke-width="0.15">#mh17 (87)</text>
<text x="435.2" y="762.5" font-family="Liberation Sans" font-size="9.9" font-weight="bold" text-anchor="start" fill="#111" textLength="58.6" lengthAdjust="spacingAndGlyphs" stroke="#111" stroke-width="0.15">#ukraine (19)</text>
<text x="435.2" y="775.3" font-family="Liberation Sans" font-size="9.9" font-weight="bold" text-anchor="start" fill="#111" textLength="57.0" lengthAdjust="spacingAndGlyphs" stroke="#111" stroke-width="0.15">#aircraft (16)</text>
<text x="435.2" y="788.3" font-family="Liberation Sans" font-size="9.9" font-weight="bold" text-anchor="start" fill="#111" textLength="59.7" lengthAdjust="spacingAndGlyphs" stroke="#111" stroke-width="0.15">#malaysia (9)</text>
<text x="435.2" y="801.3" font-family="Liberation Sans" font-size="9.9" font-weight="bold" text-anchor="start" fill="#111" textLength="59.1" lengthAdjust="spacingAndGlyphs" stroke="#111" stroke-width="0.15">#breaking (7)</text>
<text x="402.3" y="856.6" font-family="Liberation Sans" font-size="9.9" font-weight="bold" text-anchor="start" fill="#111" textLength="49.6" lengthAdjust="spacingAndGlyphs" stroke="#111" stroke-width="0.15">#mh17 (28)</text>
<text x="402.3" y="869.3" font-family="Liberation Sans" font-size="9.9" font-weight="bold" text-anchor="start" fill="#111" textLength="77.1" lengthAdjust="spacingAndGlyphs" stroke="#111" stroke-width="0.15">#prayformh17 (4)</text>
<text x="402.3" y="882.1" font-family="Liberation Sans" font-size="9.9" font-weight="bold" text-anchor="start" fill="#111" textLength="53.3" lengthAdjust="spacingAndGlyphs" stroke="#111" stroke-width="0.15">#ukraine (4)</text>
<text x="402.3" y="894.8" font-family="Liberation Sans" font-size="9.9" font-weight="bold" text-anchor="start" fill="#111" textLength="92.9" lengthAdjust="spacingAndGlyphs" stroke="#111" stroke-width="0.15">#malaysiaairlines (4)</text>
<text x="402.3" y="907.5" font-family="Liberation Sans" font-size="9.9" font-weight="bold" text-anchor="start" fill="#111" textLength="43.8" lengthAdjust="spacingAndGlyphs" stroke="#111" stroke-width="0.15">#prkdr (4)</text>
<line x1="119.4" y1="893.6" x2="101.0" y2="901.0" stroke="#000" stroke-width="1.9"/>
<polygon points="97.7,902.4 101.6,897.1 102.0,900.7 104.2,903.4" fill="#000"/>
<line x1="138" y1="946.1" x2="96.1" y2="957.6" stroke="#000" stroke-width="1.9"/>
<polygon points="92.6,958.5 97.1,953.7 97.0,957.3 98.9,960.3" fill="#000"/>
<line x1="507.9" y1="754.9" x2="532.2" y2="758.7" stroke="#000" stroke-width="1.9"/>
<polygon points="535.8,759.3 529.7,761.8 531.3,758.6 530.8,755.1" fill="#000"/>
<line x1="494.4" y1="865.5" x2="531.8" y2="852.9" stroke="#000" stroke-width="1.9"/>
<polygon points="535.2,851.7 531.0,856.7 530.8,853.2 528.8,850.3" fill="#000"/>
</svg>
</body></html>
